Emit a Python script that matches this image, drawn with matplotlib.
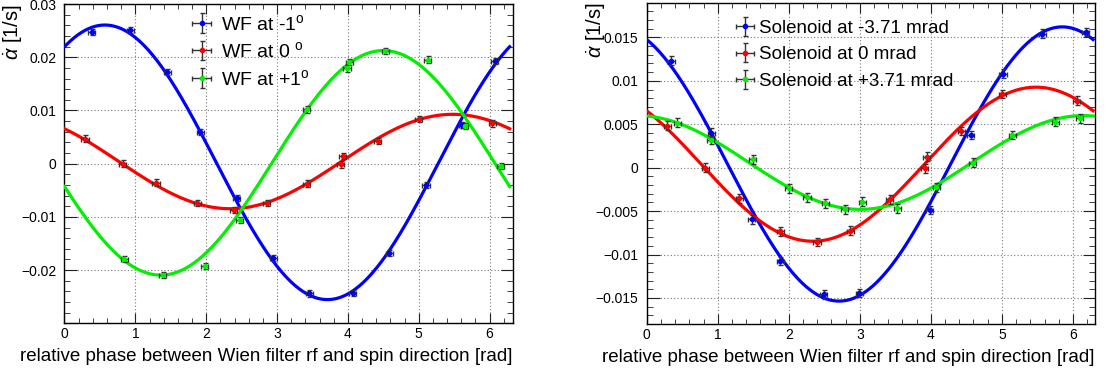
import numpy as np
import matplotlib
matplotlib.use('Agg')
import matplotlib.pyplot as plt
from matplotlib.ticker import MultipleLocator, FuncFormatter

plt.rcParams['font.family'] = ['Liberation Sans', 'DejaVu Sans']
plt.rcParams['mathtext.fontset'] = 'custom'
plt.rcParams['mathtext.rm'] = 'Liberation Sans'
plt.rcParams['mathtext.it'] = 'Liberation Sans:italic'

# ---- left panel: Wien filter tilt ----
wf_labels = ['WF at -1$^{\\mathrm{o}}$', 'WF at 0 $^{\\mathrm{o}}$', 'WF at +1$^{\\mathrm{o}}$']
wf_m1_x = [0.385, 0.928, 1.448, 1.919, 2.43, 2.949, 3.453, 4.068, 4.587, 5.102, 5.616, 6.074]
wf_m1_y = [0.02477, 0.02514, 0.01719, 0.00593, -0.0065, -0.01777, -0.02439, -0.02433,
           -0.01683, -0.00407, 0.00724, 0.01925]
wf_0_x = [0.290, 0.819, 1.292, 1.872, 2.391, 2.854, 3.42, 3.902, 3.926, 4.422, 5.003, 6.041]
wf_0_y = [0.00469, 0.0, -0.00357, -0.00745, -0.0087, -0.00745, -0.00375, -0.00013,
          0.00143, 0.00424, 0.00844, 0.00756]
wf_p1_x = [0.843, 1.385, 1.98, 2.476, 3.42, 3.987, 4.02, 4.53, 5.13, 5.649, 6.159]
wf_p1_y = [-0.01796, -0.0209, -0.0192, -0.01058, 0.01019, 0.01788, 0.01913, 0.02113,
           0.01957, 0.00705, -0.00045]
# fit: y = offset + amp * cos(x - phase)
wf_offset = [0.00025, 0.0004, 0.00015]
wf_amp = [0.0258, 0.00887, 0.0211]
wf_phase = [0.57, 5.48, 4.5]

# ---- right panel: solenoid ----
sol_labels = ['Solenoid at -3.71 mrad', 'Solenoid at 0 mrad', 'Solenoid at +3.71 mrad']
sol_m_x = [0.343, 0.907, 1.481, 1.88, 2.49, 2.994, 3.986, 4.56, 5.016, 5.571, 6.182]
sol_m_y = [0.01232, 0.00404, -0.00596, -0.01074, -0.01458, -0.01443, -0.00488, 0.00378,
           0.01082, 0.01544, 0.01563]
sol_0_x = [0.291, 0.822, 1.302, 1.88, 2.398, 2.867, 3.422, 3.911, 3.939, 4.428, 5.007, 6.055]
sol_0_y = [0.00482, 0.0, -0.00354, -0.00731, -0.00854, -0.00727, -0.00365, -0.00007,
           0.00127, 0.00424, 0.00848, 0.0077]
sol_p_x = [0.432, 0.902, 1.495, 1.997, 2.257, 2.515, 2.787, 3.032, 3.526, 4.076, 4.592,
           5.148, 5.749, 6.097]
sol_p_y = [0.0052, 0.0032, 0.00097, -0.00238, -0.00342, -0.00411, -0.0048, -0.00393,
           -0.00469, -0.00226, 0.00058, 0.00378, 0.00531, 0.0057]
sol_offset = [0.000425, 0.0004, 0.0006]
sol_amp = [0.01579, 0.00887, 0.0054]
sol_phase = [5.85, 5.48, 6.15]

colors = ['#0000ff', '#ff0000', '#00f000']
x_err = 0.05
xlabel = 'relative phase between Wien filter rf and spin direction [rad]'
ylabel = r'$\dot{\alpha}$ [1/s]'

fig = plt.figure(figsize=(11.06, 3.74), dpi=100)
ax1 = fig.add_axes([0.0583, 0.1356, 0.4055, 0.8537])
ax2 = fig.add_axes([0.5847, 0.1337, 0.4053, 0.8591])


def fmt(v, pos):
    if abs(v) < 1e-12:
        return '0'
    return ('%g' % v).replace('-', '\u2212')


def draw(ax, xs, ys, offs, amps, phases, labels, y_err, ylim, ymaj, ymin_,
         leg_anchor, leg_fs, leg_space, hlen, hpad):
    xf = np.linspace(0, 2 * np.pi, 400)
    handles = []
    for i in range(3):
        ax.plot(xf, offs[i] + amps[i] * np.cos(xf - phases[i]), color=colors[i],
                lw=2.3, zorder=3)
        h = ax.errorbar(xs[i], ys[i], xerr=x_err, yerr=y_err, fmt='o', ms=3,
                        color=colors[i], ecolor='#333333', elinewidth=1,
                        capsize=1.8, capthick=1, zorder=4)
        handles.append(h)
    ax.set_xlim(0, 6.33)
    ax.set_ylim(*ylim)
    ax.xaxis.set_major_locator(MultipleLocator(1))
    ax.xaxis.set_minor_locator(MultipleLocator(0.2))
    ax.yaxis.set_major_locator(MultipleLocator(ymaj))
    ax.yaxis.set_minor_locator(MultipleLocator(ymin_))
    ax.yaxis.set_major_formatter(FuncFormatter(fmt))
    ax.grid(True, which='major', ls=(0, (1, 2)), color='#777777', lw=0.8)
    ax.tick_params(which='both', direction='in', top=True, right=True,
                   labelsize=10, color='#222222')
    ax.tick_params(axis='x', which='major', length=7, pad=3)
    ax.tick_params(axis='x', which='minor', length=3.5)
    ax.tick_params(axis='y', which='major', length=9, pad=6)
    ax.tick_params(axis='y', which='minor', length=4.5)
    for s in ax.spines.values():
        s.set_linewidth(1)
    ax.set_xlabel(xlabel, fontsize=13.5, loc='right')
    ax.xaxis.set_label_coords(1.0, -0.078)
    ax.set_ylabel(ylabel, fontsize=14.5, loc='top')
    ax.yaxis.label.set_va('center')
    ax.legend(handles, labels, loc='upper left', bbox_to_anchor=leg_anchor,
              frameon=False, fontsize=leg_fs, handlelength=hlen,
              handletextpad=hpad, labelspacing=leg_space, borderpad=0,
              borderaxespad=0)


draw(ax1, [wf_m1_x, wf_0_x, wf_p1_x], [wf_m1_y, wf_0_y, wf_p1_y],
     wf_offset, wf_amp, wf_phase, wf_labels, 0.0006, (-0.03, 0.03),
     0.01, 0.002, (0.28, 0.969), 14, 0.38, 1.2, 0.4)
ax1.yaxis.set_label_coords(-0.117, 1.0)
# ROOT-style axis: no label on the lowest tick
ax1.yaxis.set_major_formatter(FuncFormatter(lambda v, p: '' if v < -0.0295 else fmt(v, p)))

draw(ax2, [sol_m_x, sol_0_x, sol_p_x], [sol_m_y, sol_0_y, sol_p_y],
     sol_offset, sol_amp, sol_phase, sol_labels, 0.0005, (-0.018, 0.019),
     0.005, 0.001, (0.2014, 0.947), 13.5, 0.5, 0.85, 0.3)
ax2.set_xlim(0, 6.31)
ax2.yaxis.set_label_coords(-0.114, 1.0)

fig.savefig('out.png', dpi=100)
